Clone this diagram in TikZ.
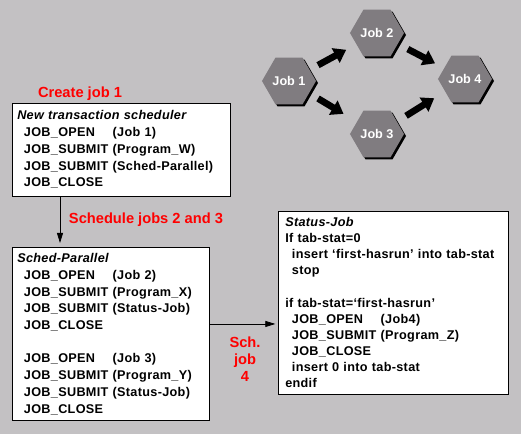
\documentclass[tikz,border=0pt]{standalone}
\usepackage{fontspec}
\setmainfont{Liberation Sans}
\usetikzlibrary{positioning,arrows.meta,shapes.geometric,shadows,calc}
\definecolor{bggray}{RGB}{195,193,195}
\definecolor{hexgray}{RGB}{128,124,128}
\newlength{\jcolw}
\newcommand{\jcall}[2]{\settowidth{\jcolw}{JOB\_SUBMIT\ }\makebox[\jcolw][l]{#1}#2}
\newcommand{\ind}{\hspace*{5pt}}
\tikzset{
  jobhex/.style = {regular polygon, regular polygon sides=6,
                   minimum size=33pt, inner sep=0pt,
                   fill=hexgray, text=white,
                   font=\fontsize{9.5}{10}\selectfont\bfseries,
                   drop shadow={shadow xshift=1.5pt, shadow yshift=-1.5pt,
                                fill=black, opacity=1}},
  flow/.style = {-{Triangle[length=9pt,width=12pt]}, line width=5pt},
  box/.style  = {rectangle, draw, fill=white, anchor=north west,
                 align=left, inner xsep=3.75pt, inner ysep=5.5pt,
                 font=\fontsize{9.5}{12.6}\selectfont\bfseries\addfontfeature{LetterSpace=2.5}},
  arr/.style  = {-{Triangle[length=7.5pt,width=4.5pt]}, semithick},
  note/.style = {text=red, align=center,
                 font=\fontsize{11}{12.75}\selectfont\bfseries}
}
\begin{document}
\begin{tikzpicture}[x=0.75pt,y=-0.75pt]
  \fill[bggray] (0,0) rectangle (521,434);
  \useasboundingbox (0,0) rectangle (521,434);

  % job graph
  \node[jobhex] (j1) at (289,81) {Job 1};
  \node[jobhex] (j2) at (377,33) {Job 2};
  \node[jobhex] (j3) at (377,134) {Job 3};
  \node[jobhex] (j4) at (465,79) {Job 4};
  \draw[flow] ($(j1)!0.33!(j2)$) -- ($(j1)!0.65!(j2)$);
  \draw[flow] ($(j1)!0.33!(j3)$) -- ($(j1)!0.62!(j3)$);
  \draw[flow] ($(j2)!0.35!(j4)$) -- ($(j2)!0.66!(j4)$);
  \draw[flow] ($(j3)!0.33!(j4)$) -- ($(j3)!0.65!(j4)$);

  % schedulers
  \node[box,text width=156pt] (sched) at (12,103) {%
    \textit{New transaction scheduler}\\
    \ind\jcall{JOB\_OPEN}{(Job 1)}\\
    \ind\jcall{JOB\_SUBMIT}{(Program\_W)}\\
    \ind\jcall{JOB\_SUBMIT}{(Sched-Parallel)}\\
    \ind JOB\_CLOSE};
  \node[box,text width=140pt,inner ysep=4.5pt] (par) at (12,247) {%
    \textit{Sched-Parallel}\\
    \ind\jcall{JOB\_OPEN}{(Job 2)}\\
    \ind\jcall{JOB\_SUBMIT}{(Program\_X)}\\
    \ind\jcall{JOB\_SUBMIT}{(Status-Job)}\\
    \ind JOB\_CLOSE\\[12.2pt]
    \ind\jcall{JOB\_OPEN}{(Job 3)}\\
    \ind\jcall{JOB\_SUBMIT}{(Program\_Y)}\\
    \ind\jcall{JOB\_SUBMIT}{(Status-Job)}\\
    \ind JOB\_CLOSE};
  \node[box,text width=162pt,inner xsep=5.25pt,inner ysep=4.5pt,
        font=\fontsize{9.5}{12.1}\selectfont\bfseries\addfontfeature{LetterSpace=2.5}] (stat) at (278,211) {%
    \textit{Status-Job}\\
    If tab-stat=0\\
    \ind insert ‘first-hasrun’ into tab-stat\\
    \ind stop\\[12.1pt]
    if tab-stat=‘first-hasrun’\\
    \ind\jcall{JOB\_OPEN}{(Job4)}\\
    \ind\jcall{JOB\_SUBMIT}{(Program\_Z)}\\
    \ind JOB\_CLOSE\\
    \ind insert 0 into tab-stat\\
    endif};

  \draw[arr] ([xshift=36pt]sched.south west) -- ([xshift=36pt,yshift=3pt]par.north west);
  \draw[arr] ([yshift=7.5pt]par.east) -- ([xshift=-2pt,yshift=7.5pt]par.east -| stat.west);

  \node[note] (l1) at (80,94) {Create job 1};
  \node[note] (l2) at (146,220) {Schedule jobs 2 and 3};
  \node[note] (l3) at (245,359) {Sch.\\job\\4};
\end{tikzpicture}
\end{document}
